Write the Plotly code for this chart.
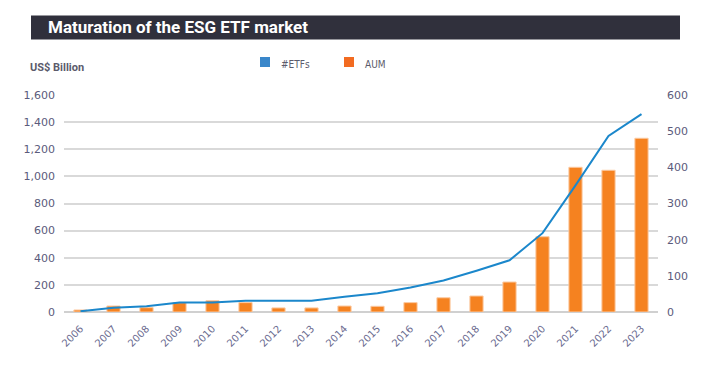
import plotly.graph_objects as go

years = [str(y) for y in range(2006, 2024)]
aum = [15, 44, 32, 69, 83, 69, 30, 30, 44, 42, 69, 105, 118, 221, 555, 1067, 1045, 1281]
etfs = [2, 12, 16, 26, 26, 31, 31, 31, 42, 52, 68, 87, 114, 143, 218, 350, 487, 547]
left_ticks = [0, 200, 400, 600, 800, 1000, 1200, 1400, 1600]
right_ticks = [0, 100, 200, 300, 400, 500, 600]
legend_names = ["#ETFs", "AUM"]

ORANGE = "#F58220"
BLUE = "#1B87CB"
TICK = "#5B5B7B"
GRID = "#D9D9D9"

fig = go.Figure()
fig.add_trace(go.Bar(x=years, y=aum, name="AUM", marker=dict(color=ORANGE, line=dict(color="#FBC9A0", width=1)),
                     width=0.4, showlegend=False, yaxis="y"))
fig.add_trace(go.Scatter(x=years, y=etfs, name="#ETFs", mode="lines", line=dict(color=BLUE, width=2),
                         showlegend=False, yaxis="y2"))

OFF = 8  # page body margin
W, H = 704 - OFF, 366 - OFF
# plot area in page pixels: x 64..658, y 95..312
L = 64 - OFF
T = 95 - OFF
R = W - (658 - OFF)
B = H - (312 - OFF)
pw, ph = W - L - R, H - T - B

def px(x):
    return (x - OFF - L) / pw

def py(y):
    return (H - B - (y - OFF)) / ph

shapes = [dict(type="rect", xref="paper", yref="paper", x0=px(31), x1=px(680), y0=py(39.5), y1=py(15.5),
               fillcolor="#30303C", line=dict(width=0), layer="below")]
annotations = [
    dict(text="<b>Maturation of the ESG ETF market</b>", xref="paper", yref="paper", x=px(46), y=py(27.5),
         xanchor="left", yanchor="middle", showarrow=False,
         font=dict(family="Roboto", size=17, color="white")),
    dict(text="<b>US$ Billion</b>", xref="paper", yref="paper", x=px(28), y=py(67.5),
         xanchor="left", yanchor="middle", showarrow=False,
         font=dict(family="Roboto", size=11, color="#5B5B6B")),
]
# manual legend (square swatches)
for name, color, sx in zip(legend_names, ["#3A87CA", "#F26B21"], [260, 344]):
    shapes.append(dict(type="rect", xref="paper", yref="paper", x0=px(sx), x1=px(sx + 10),
                       y0=py(67), y1=py(57), fillcolor=color, line=dict(width=0)))
    annotations.append(dict(text=name, xref="paper", yref="paper", x=px(sx + 18.5), y=py(64.5),
                            xanchor="left", yanchor="middle", showarrow=False,
                            font=dict(family="DejaVu Sans Condensed, DejaVu Sans", size=10, color="#5B5B6B")))

fig.update_layout(
    width=W, height=H,
    margin=dict(l=L, r=R, t=T, b=B, autoexpand=False),
    paper_bgcolor="white", plot_bgcolor="white",
    font=dict(family="DejaVu Sans", color=TICK, size=11),
    showlegend=False,
    xaxis=dict(type="category", tickangle=-45, tickfont=dict(size=10, color="#6B6B90"),
               showgrid=False, showline=False, ticks="", ticklen=0, automargin=False,
               ticklabelstandoff=8),
    yaxis=dict(range=[0, 1600], tickvals=left_ticks, tickformat=",", showgrid=True,
               gridcolor=GRID, gridwidth=1.5, zeroline=True, zerolinecolor="#D0D0D0", zerolinewidth=2,
               tickfont=dict(size=11, color=TICK), ticklabelstandoff=8, automargin=False),
    yaxis2=dict(range=[0, 600], tickvals=right_ticks, overlaying="y", side="right", showgrid=False,
                zeroline=False, tickfont=dict(size=11, color=TICK), ticklabelstandoff=8, automargin=False),
    shapes=shapes,
    annotations=annotations,
)

fig.write_html("out.html")
